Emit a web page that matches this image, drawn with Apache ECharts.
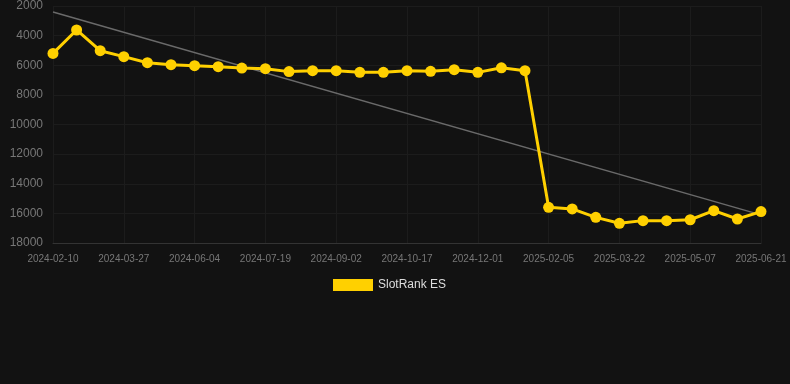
<!DOCTYPE html>
<html><head><meta charset="utf-8">
<script src="https://cdn.jsdelivr.net/npm/echarts@6/dist/echarts.min.js"></script>
<style>html,body{margin:0;padding:0;background:#121212;}#c{width:790px;height:384px;}</style>
</head><body><div id="c"></div>
<script>
const categories = ["2024-02-10","2024-02-25","2024-03-11","2024-03-27","2024-04-20","2024-05-12","2024-06-04","2024-06-19","2024-07-04","2024-07-19","2024-08-03","2024-08-18","2024-09-02","2024-09-17","2024-10-02","2024-10-17","2024-11-01","2024-11-16","2024-12-01","2024-12-16","2025-01-01","2025-02-05","2025-02-20","2025-03-07","2025-03-22","2025-04-06","2025-04-22","2025-05-07","2025-05-22","2025-06-06","2025-06-21"];
const slotRankES = [5200,3620,5020,5420,5830,5960,6030,6100,6190,6230,6430,6370,6370,6480,6480,6370,6410,6300,6480,6170,6370,15590,15700,16270,16670,16490,16490,16430,15820,16380,15880];
const trendStart = 2400;
const trendEnd = 16100;
const yTicks = {min:2000, max:18000, step:2000};

const trendData = categories.map((c,i)=> i===0 ? trendStart : (i===categories.length-1 ? trendEnd : null));

const chart = echarts.init(document.getElementById('c'));
chart.setOption({
  backgroundColor:'#121212',
  animation:false,
  grid:{left:53,right:29,top:6,bottom:141,containLabel:false},
  legend:{
    data:[{name:'SlotRank ES',icon:'rect'}],
    top:274,left:328,itemWidth:40,itemHeight:12,itemGap:10,
    textStyle:{color:'#dddddd',fontSize:12,fontFamily:'Liberation Sans, Arial, sans-serif'}
  },
  xAxis:{
    type:'category',data:categories,boundaryGap:false,
    axisLine:{lineStyle:{color:'#333'}},
    axisTick:{show:false},
    axisLabel:{interval:2,color:'#777',fontSize:10,margin:11,fontFamily:'Liberation Sans, Arial, sans-serif'},
    splitLine:{show:true,interval:2,lineStyle:{color:'#1c1c1c'}}
  },
  yAxis:{
    type:'value',inverse:true,min:yTicks.min,max:yTicks.max,interval:yTicks.step,
    axisLine:{show:false},axisTick:{show:false},
    axisLabel:{color:'#777',fontSize:12,margin:10,formatter:v=>String(v),fontFamily:'Liberation Sans, Arial, sans-serif'},
    splitLine:{lineStyle:{color:'#1c1c1c'}}
  },
  series:[
    {name:'Trend',type:'line',data:trendData,connectNulls:true,symbol:'none',
     lineStyle:{color:'#6a6a6a',width:1.5},z:1,silent:true},
    {name:'SlotRank ES',type:'line',data:slotRankES,symbol:'circle',symbolSize:11,
     lineStyle:{color:'#FFD000',width:3},itemStyle:{color:'#FFD000'},z:3}
  ]
});
</script></body></html>
